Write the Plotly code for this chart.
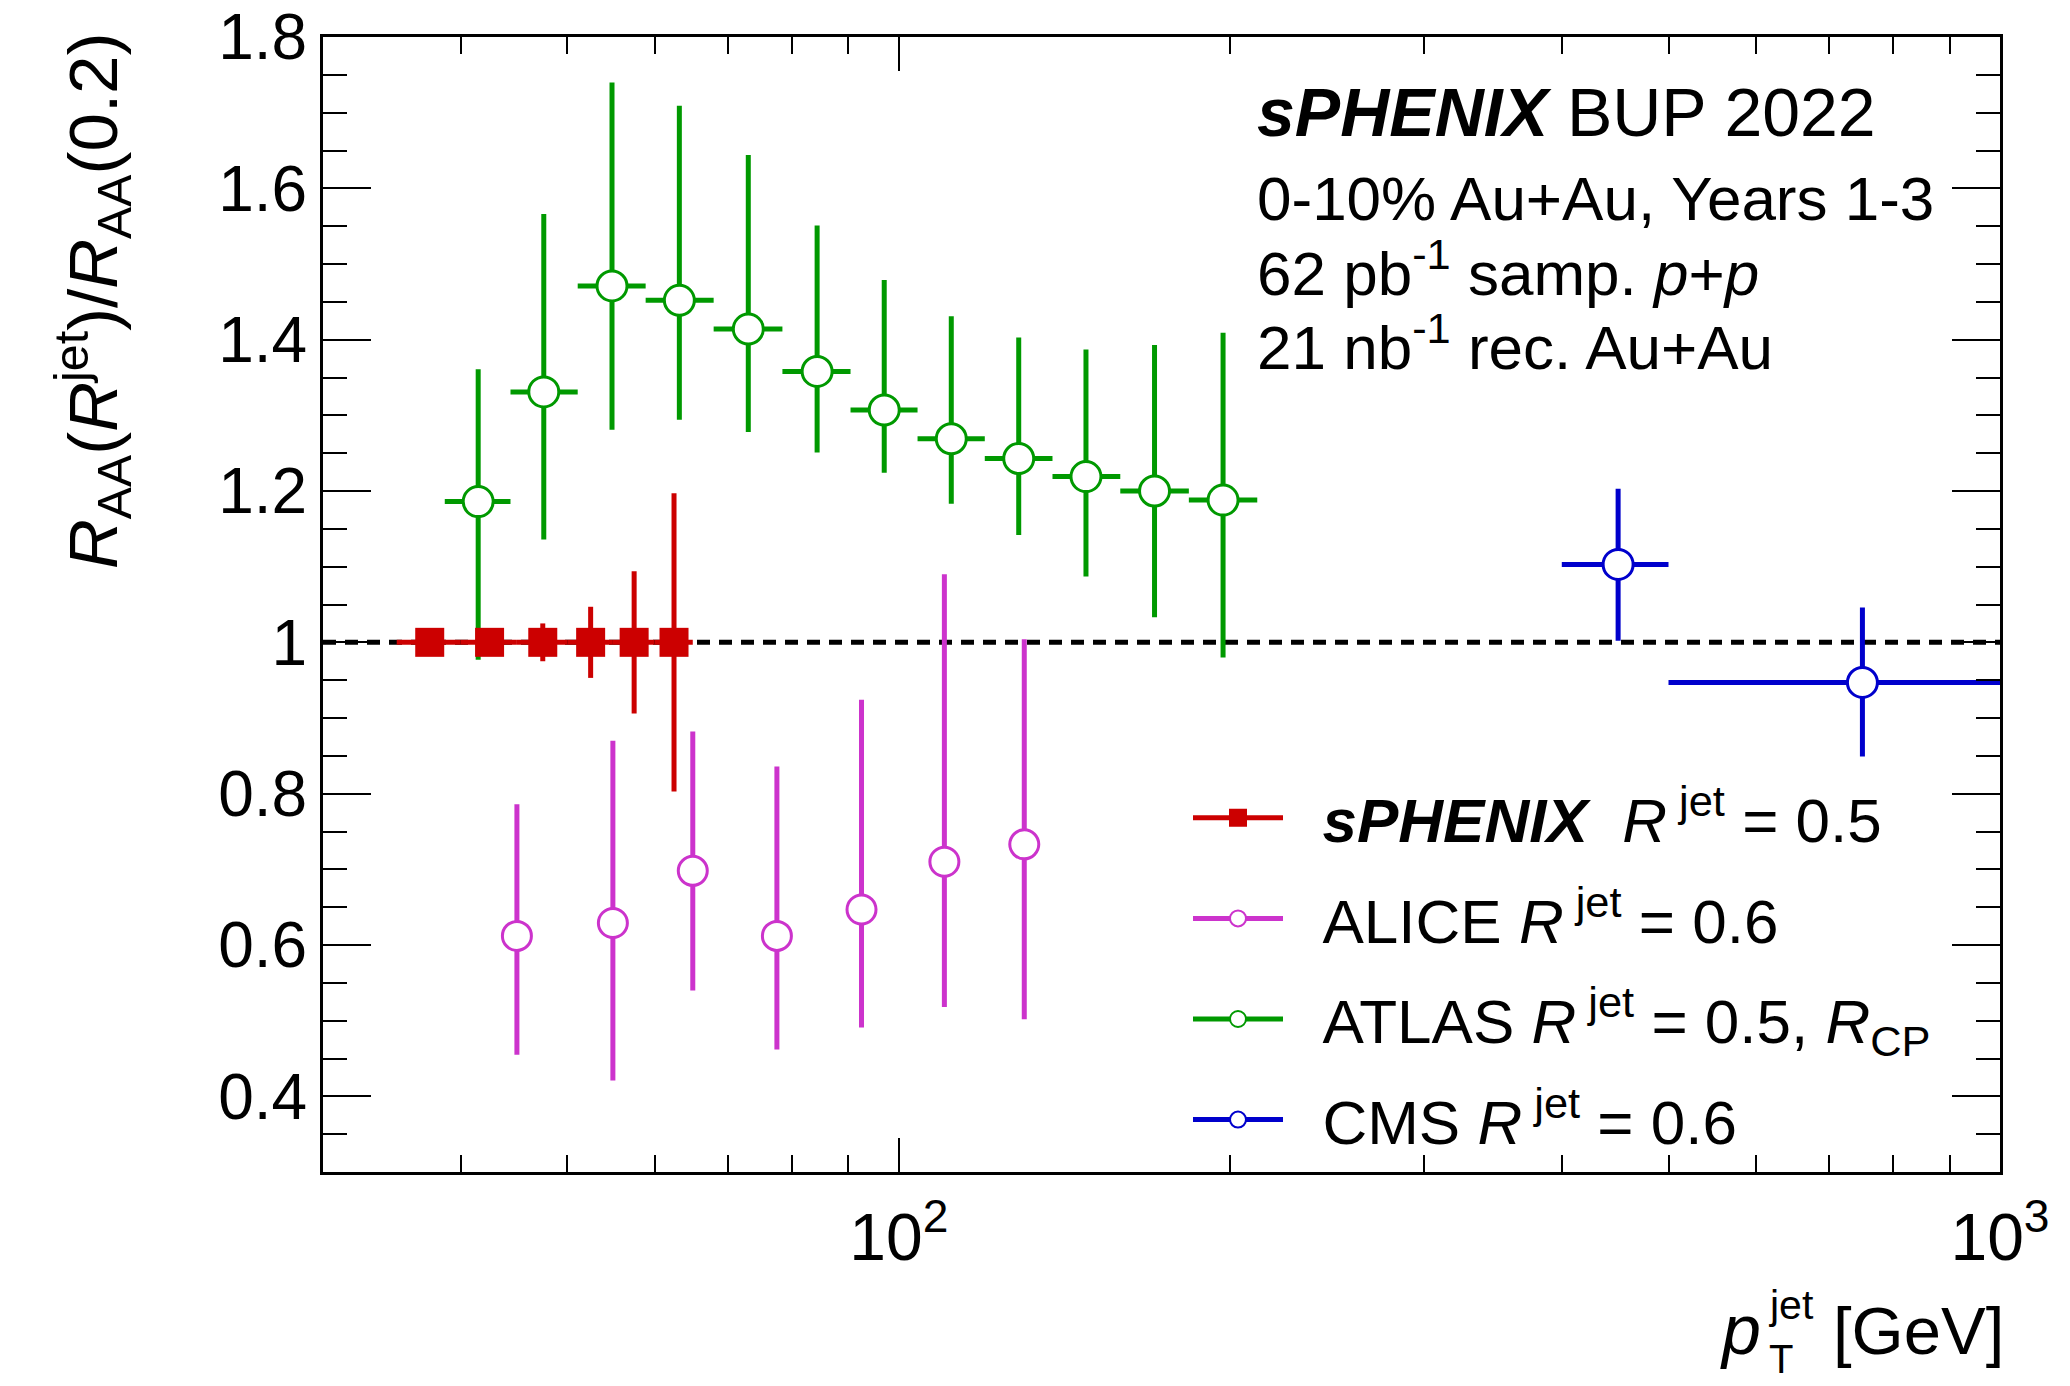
import plotly.graph_objects as go

# ---------------- data ----------------
sphenix_pt = [37.5, 42.5, 47.5, 52.5, 57.5, 62.5]
sphenix_bin_lo = [35.0, 40.0, 45.0, 50.0, 55.0, 60.0]
sphenix_bin_hi = [40.0, 45.0, 50.0, 55.0, 60.0, 65.0]
sphenix_ratio = [1.0, 1.0, 1.0, 1.0, 1.0, 1.0]
sphenix_err = [0.006, 0.012, 0.025, 0.047, 0.094, 0.197]

alice_pt = [45.0, 55.0, 65.0, 77.5, 92.5, 110.0, 130.0]
alice_ratio = [0.612, 0.629, 0.698, 0.612, 0.647, 0.710, 0.733]
alice_hi = [0.786, 0.870, 0.882, 0.836, 0.924, 1.090, 1.004]
alice_lo = [0.455, 0.421, 0.540, 0.462, 0.491, 0.518, 0.502]

atlas_pt = [41.5, 47.6, 54.9, 63.2, 73.0, 84.3, 97.0, 111.6, 128.5, 147.9, 170.7, 197.0]
atlas_bin_lo = [38.7, 44.4, 51.1, 58.9, 67.9, 78.4, 90.4, 104.0, 119.7, 137.9, 158.9, 183.4]
atlas_bin_hi = [44.4, 51.1, 58.9, 67.9, 78.4, 90.4, 104.0, 119.7, 137.9, 158.9, 183.4, 211.6]
atlas_ratio = [1.186, 1.331, 1.471, 1.452, 1.414, 1.358, 1.307, 1.269, 1.243, 1.219, 1.200, 1.188]
atlas_hi = [1.361, 1.566, 1.740, 1.709, 1.644, 1.551, 1.479, 1.431, 1.403, 1.387, 1.393, 1.409]
atlas_lo = [0.977, 1.136, 1.281, 1.294, 1.278, 1.251, 1.224, 1.183, 1.142, 1.087, 1.033, 0.980]

cms_pt = [450.0, 750.0]
cms_bin_lo = [400.0, 500.0]
cms_bin_hi = [500.0, 1000.0]
cms_ratio = [1.103, 0.947]
cms_hi = [1.203, 1.046]
cms_lo = [1.002, 0.849]

y_tickvals = [0.4, 0.6, 0.8, 1.0, 1.2, 1.4, 1.6, 1.8]
y_ticktext = ["0.4", "0.6", "0.8", "1", "1.2", "1.4", "1.6", "1.8"]
x_tickvals = [100, 1000]
x_ticktext = ["10<sup>2</sup>", "10<sup>3</sup>"]
x_minorvals = [40, 50, 60, 70, 80, 90, 200, 300, 400, 500, 600, 700, 800, 900]

NB = "\u00a0"
legend_labels = [
    NB * 2 + "<b><i>sPHENIX</i></b>" + NB * 2 + "<i>R</i><sup>" + NB + "jet</sup> = 0.5",
    NB * 2 + "ALICE <i>R</i><sup>" + NB + "jet</sup> = 0.6",
    NB * 2 + "ATLAS <i>R</i><sup>" + NB + "jet</sup> = 0.5, <i>R</i><sub>CP</sub>",
    NB * 2 + "CMS <i>R</i><sup>" + NB + "jet</sup> = 0.6",
]

RED = "#cc0000"
MAGENTA = "#cc33cc"
GREEN = "#009900"
BLUE = "#0000cc"
FONT = "Liberation Sans, Arial, Helvetica, sans-serif"

# page geometry (page body margin removed below, so figure pixels = page pixels)
W, H = 2070, 1386
L, R, T, B = 323, 2000, 37, 1172   # plot frame in pixels


def px_x(p):
    return (p - L) / (R - L)


def px_y(p):
    return (B - p) / (B - T)


def minus(a, b):
    return [x - y for x, y in zip(a, b)]


fig = go.Figure()

# ALICE
fig.add_trace(go.Scatter(
    x=alice_pt, y=alice_ratio, mode="markers", showlegend=False,
    marker=dict(symbol="circle", size=29, color="white", line=dict(color=MAGENTA, width=3)),
    error_y=dict(type="data", symmetric=False, array=minus(alice_hi, alice_ratio),
                 arrayminus=minus(alice_ratio, alice_lo), color=MAGENTA, thickness=5, width=0),
))
# ATLAS
fig.add_trace(go.Scatter(
    x=atlas_pt, y=atlas_ratio, mode="markers", showlegend=False,
    marker=dict(symbol="circle", size=30, color="white", line=dict(color=GREEN, width=3)),
    error_y=dict(type="data", symmetric=False, array=minus(atlas_hi, atlas_ratio),
                 arrayminus=minus(atlas_ratio, atlas_lo), color=GREEN, thickness=5, width=0),
    error_x=dict(type="data", symmetric=False, array=minus(atlas_bin_hi, atlas_pt),
                 arrayminus=minus(atlas_pt, atlas_bin_lo), color=GREEN, thickness=5, width=0),
))
# CMS
fig.add_trace(go.Scatter(
    x=cms_pt, y=cms_ratio, mode="markers", showlegend=False, cliponaxis=True,
    marker=dict(symbol="circle", size=30, color="white", line=dict(color=BLUE, width=3)),
    error_y=dict(type="data", symmetric=False, array=minus(cms_hi, cms_ratio),
                 arrayminus=minus(cms_ratio, cms_lo), color=BLUE, thickness=5, width=0),
    error_x=dict(type="data", symmetric=False, array=minus(cms_bin_hi, cms_pt),
                 arrayminus=minus(cms_pt, cms_bin_lo), color=BLUE, thickness=5, width=0),
))
# sPHENIX
fig.add_trace(go.Scatter(
    x=sphenix_pt, y=sphenix_ratio, mode="markers", showlegend=False,
    marker=dict(symbol="square", size=29, color=RED, line=dict(width=0)),
    error_y=dict(type="data", array=sphenix_err, color=RED, thickness=5, width=0),
    error_x=dict(type="data", symmetric=False, array=minus(sphenix_bin_hi, sphenix_pt),
                 arrayminus=minus(sphenix_pt, sphenix_bin_lo), color=RED, thickness=5, width=0),
))

# legend entries
for lab, col, sym, fill in [
    (legend_labels[0], RED, "square", RED),
    (legend_labels[1], MAGENTA, "circle", "white"),
    (legend_labels[2], GREEN, "circle", "white"),
    (legend_labels[3], BLUE, "circle", "white"),
]:
    fig.add_trace(go.Scatter(
        x=[None], y=[None], mode="lines+markers", name=lab, legendgroup=lab,
        line=dict(color=col, width=5),
        marker=dict(symbol=sym, size=30, color=fill, line=dict(color=col, width=2)),
    ))

# reference line at unity
fig.add_shape(type="line", xref="paper", yref="y", x0=0, x1=1, y0=1, y1=1,
              line=dict(color="black", width=5, dash="13px,9px"), layer="below")

annotations = [
    dict(text="<b><i>sPHENIX</i></b> BUP 2022", x=px_x(1255), y=px_y(112),
         font=dict(size=68)),
    dict(text="0-10% Au+Au, Years 1-3", x=px_x(1255), y=px_y(199), font=dict(size=62)),
    dict(text="62 pb<sup>-1</sup> samp. <i>p</i>+<i>p</i>", x=px_x(1255), y=px_y(269),
         font=dict(size=62)),
    dict(text="21 nb<sup>-1</sup> rec. Au+Au", x=px_x(1255), y=px_y(343), font=dict(size=62)),
]
for a in annotations:
    a.update(xref="paper", yref="paper", xanchor="left", yanchor="middle", showarrow=False)
    a["font"].update(family=FONT, color="black")

# axis titles
annotations += [
    dict(text="<i>R</i><sub>AA</sub>(<i>R</i><sup>jet</sup>)/<i>R</i><sub>AA</sub>(0.2)",
         x=px_x(92), y=px_y(31), xanchor="center", yanchor="top", textangle=-90,
         xref="paper", yref="paper", showarrow=False,
         font=dict(family=FONT, size=69, color="black")),
    dict(text="[GeV]", x=px_x(2006), y=px_y(1330), xanchor="right", yanchor="middle",
         xref="paper", yref="paper", showarrow=False,
         font=dict(family=FONT, size=67, color="black")),
    dict(text="<i>p</i>", x=px_x(1763), y=px_y(1330), xanchor="right", yanchor="middle",
         xref="paper", yref="paper", showarrow=False,
         font=dict(family=FONT, size=70, color="black")),
    dict(text="jet", x=px_x(1767), y=px_y(1305), xanchor="left", yanchor="middle",
         xref="paper", yref="paper", showarrow=False,
         font=dict(family=FONT, size=41, color="black")),
    dict(text="T", x=px_x(1767), y=px_y(1359), xanchor="left", yanchor="middle",
         xref="paper", yref="paper", showarrow=False,
         font=dict(family=FONT, size=40, color="black")),
]

fig.update_layout(
    width=W, height=H,
    margin=dict(l=L, r=W - R, t=T, b=H - B, pad=0, autoexpand=False),
    plot_bgcolor="white", paper_bgcolor="white",
    font=dict(family=FONT, color="black"),
    annotations=annotations,
    legend=dict(x=px_x(1188), y=px_y(771), xanchor="left", yanchor="top",
                font=dict(family=FONT, size=62, color="black"),
                bgcolor="rgba(0,0,0,0)", borderwidth=0, itemwidth=90,
                tracegroupgap=17, traceorder="grouped"),
    xaxis=dict(
        type="log", range=[1.47712, 3.0], showgrid=False, zeroline=False, automargin=False,
        showline=True, linecolor="black", linewidth=3, mirror="allticks",
        ticks="inside", ticklen=34, tickwidth=2, tickcolor="black",
        tickmode="array", tickvals=x_tickvals, ticktext=x_ticktext,
        tickfont=dict(family=FONT, size=66, color="black"), ticklabelstandoff=6,
        ticklabeloverflow="allow",
        minor=dict(ticks="inside", ticklen=17, tickwidth=2, tickcolor="black",
                   tickmode="array", tickvals=x_minorvals, showgrid=False),
    ),
    yaxis=dict(
        range=[0.3, 1.8], showgrid=False, zeroline=False, automargin=False,
        showline=True, linecolor="black", linewidth=3, mirror="allticks",
        ticks="inside", ticklen=48, tickwidth=2, tickcolor="black",
        tickmode="array", tickvals=y_tickvals, ticktext=y_ticktext,
        tickfont=dict(family=FONT, size=64, color="black"), ticklabelstandoff=0,
        ticklabeloverflow="allow",
        minor=dict(ticks="inside", ticklen=24, tickwidth=2, tickcolor="black",
                   dtick=0.05, tick0=0.3, showgrid=False),
    ),
)

fig.write_html("out.html", config={"displayModeBar": False},
               post_script="document.body.style.margin='0px';document.body.style.overflow='hidden';")
